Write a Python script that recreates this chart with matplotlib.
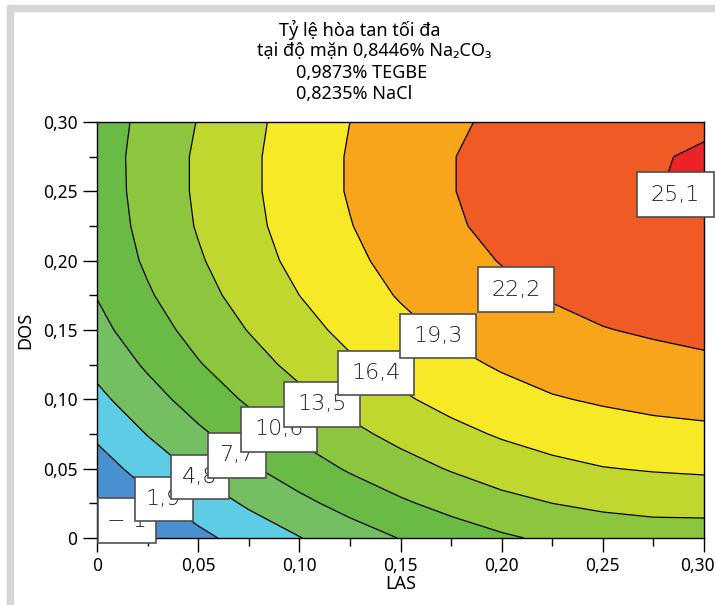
import numpy as np
import matplotlib.pyplot as plt
from matplotlib.patches import Rectangle
from matplotlib.ticker import MultipleLocator
from matplotlib.transforms import ScaledTranslation

plt.rcParams['font.family'] = ['Noto Sans', 'DejaVu Sans']

# grid of response values (rows: DOS, cols: LAS)
las = [0, 0.025, 0.05, 0.075, 0.10, 0.125, 0.15, 0.175, 0.20, 0.225, 0.25, 0.275, 0.30]
dos = [0, 0.025, 0.05, 0.075, 0.10, 0.125, 0.15, 0.175, 0.20, 0.225, 0.25, 0.275, 0.30]
ty_le = [
    [-2.8, -0.7, 1.2, 3.0, 4.7, 6.3, 7.8, 9.1, 10.2, 11.1, 11.7, 12.0, 12.0],
    [-1.2, 1.1, 3.2, 5.2, 7.0, 8.7, 10.2, 11.5, 12.7, 13.5, 14.1, 14.5, 14.6],
    [0.6, 3.1, 5.3, 7.3, 9.2, 10.9, 12.4, 13.7, 14.8, 15.7, 16.3, 16.6, 16.8],
    [2.4, 4.9, 7.2, 9.2, 11.1, 12.8, 14.3, 15.6, 16.7, 17.5, 18.1, 18.5, 18.7],
    [4.1, 6.6, 8.9, 11.0, 12.8, 14.5, 16.0, 17.3, 18.3, 19.1, 19.6, 20.0, 20.3],
    [5.6, 8.1, 10.4, 12.4, 14.3, 16.0, 17.4, 18.6, 19.6, 20.4, 21.0, 21.4, 21.7],
    [6.9, 9.3, 11.6, 13.6, 15.5, 17.1, 18.6, 19.8, 20.8, 21.5, 22.1, 22.5, 22.9],
    [7.8, 10.3, 12.5, 14.6, 16.4, 18.1, 19.5, 20.7, 21.6, 22.4, 23.0, 23.4, 23.9],
    [8.6, 11.0, 13.2, 15.3, 17.1, 18.7, 20.2, 21.4, 22.3, 23.1, 23.7, 24.2, 24.7],
    [9.0, 11.4, 13.7, 15.7, 17.6, 19.2, 20.7, 21.9, 22.8, 23.6, 24.2, 24.7, 24.9],
    [9.2, 11.6, 13.9, 15.9, 17.8, 19.5, 20.9, 22.1, 23.1, 23.9, 24.5, 25.0, 25.6],
    [9.3, 11.6, 13.9, 15.9, 17.8, 19.5, 20.9, 22.1, 23.1, 23.8, 24.4, 24.9, 25.4],
    [9.1, 11.4, 13.6, 15.7, 17.6, 19.3, 20.7, 21.8, 22.7, 23.4, 23.9, 24.3, 24.7],
]
levels = [-1.0, 1.9, 4.8, 7.7, 10.6, 13.5, 16.4, 19.3, 22.2, 25.1]
level_labels = ['− 1', '1,9', '4,8', '7,7', '10,6', '13,5', '16,4', '19,3', '22,2', '25,1']
# where the label boxes sit (LAS, DOS)
label_las = [0.0146, 0.0329, 0.0509, 0.0690, 0.0900, 0.1112, 0.1381, 0.1685, 0.2073, 0.2859]
label_dos = [0.0126, 0.0281, 0.0440, 0.0595, 0.0783, 0.0963, 0.1190, 0.1457, 0.1792, 0.2477]

xticks = [0, 0.05, 0.10, 0.15, 0.20, 0.25, 0.30]
xticklabels = ['0', '0,05', '0,10', '0,15', '0,20', '0,25', '0,30']

fill_colors = ['#2d3c8c', '#4a8fd0', '#5ecce4', '#73bf62', '#6abb45', '#8cc63f',
               '#c0d72f', '#f8e926', '#f8a51c', '#f05a24', '#ed2224']

W, H = 715, 605
fig = plt.figure(figsize=(W/100, H/100), dpi=100)
# light grey frame at top and left
fig.patches.append(Rectangle((8/W, (H-11)/H), 1, 6/H, transform=fig.transFigure,
                             color='#d6d6d6', zorder=0))
fig.patches.append(Rectangle((7/W, 0), 6/W, (H-5)/H, transform=fig.transFigure,
                             color='#d6d6d6', zorder=0))

ax = fig.add_axes([97/W, 67/H, 607/W, 416/H])
X, Y = np.meshgrid(las, dos)
Z = np.array(ty_le)
ax.contourf(X, Y, Z, levels=[-50] + levels + [50], colors=fill_colors)
ax.contour(X, Y, Z, levels=levels, colors='black', linewidths=0.9)

bw_short, bw_long, bh = 0.0287, 0.0376, 0.0320
for i in range(len(levels)):
    bw = bw_long if len(level_labels[i]) > 3 else bw_short
    ax.add_patch(Rectangle((label_las[i] - bw/2, label_dos[i] - bh/2), bw, bh,
                           facecolor='white', edgecolor='#505050', lw=1.2,
                           zorder=5 + 2*i, clip_on=False))
    ax.text(label_las[i], label_dos[i], level_labels[i], fontsize=16,
            family='DejaVu Sans', fontweight='ultralight', color='#222222',
            ha='center', va='center', zorder=6 + 2*i, clip_on=False)

ax.set_xlim(0, 0.30)
ax.set_ylim(0, 0.30)
ax.set_xticks(xticks)
ax.set_xticklabels(xticklabels)
ax.set_yticks(xticks)
ax.set_yticklabels(xticklabels)
ax.xaxis.set_minor_locator(MultipleLocator(0.025))
ax.yaxis.set_minor_locator(MultipleLocator(0.025))
ax.tick_params(which='major', direction='out', length=10, width=1, labelsize=12.5, pad=4)
ax.tick_params(which='minor', direction='out', length=6, width=1)
# last x label pulled in a little so it stays inside the picture
last = ax.get_xticklabels()[-1]
last.set_transform(last.get_transform() + ScaledTranslation(-7/100, 0, fig.dpi_scale_trans))
for s in ax.spines.values():
    s.set_linewidth(1)
ax.set_xlabel('LAS', fontsize=13, labelpad=0)
ax.set_ylabel('DOS', fontsize=13, labelpad=6)

fs = 13
fig.text(360/W, 1 - 30/H, 'Tỷ lệ hòa tan tối đa', fontsize=fs, ha='center', va='center')
fig.text(257/W, 1 - 51/H, 'tại độ mặn 0,8446% Na₂CO₃', fontsize=fs, ha='left', va='center')
fig.text(296/W, 1 - 73/H, '0,9873% TEGBE', fontsize=fs, ha='left', va='center')
fig.text(296/W, 1 - 94/H, '0,8235% NaCl', fontsize=fs, ha='left', va='center')

fig.savefig('out.png', dpi=100)
